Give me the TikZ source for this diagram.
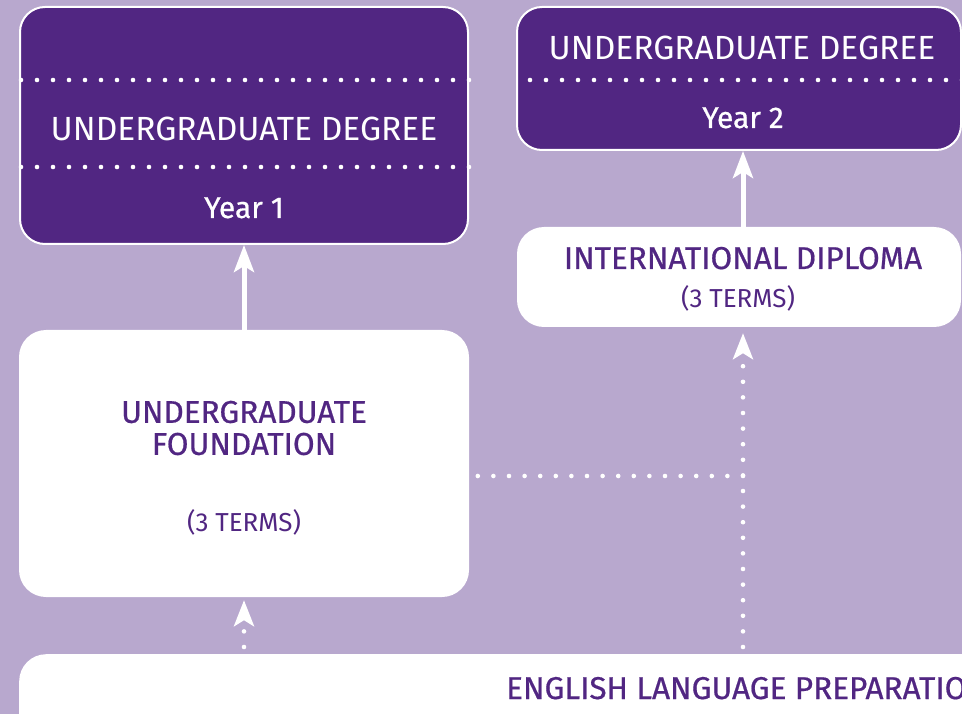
\documentclass[tikz,border=0pt]{standalone}
\usepackage{fontspec}
\setmainfont{Fira Sans}
\newfontfamily\headfont[FakeBold=0.6]{Fira Sans}
\usetikzlibrary{arrows.meta}
\definecolor{bg}{HTML}{B8A8CE}
\definecolor{dark}{HTML}{512682}
\tikzset{
  darkbox/.style={draw=white, line width=2pt, fill=dark, rounded corners=25pt, inner sep=0pt},
  whitebox/.style={fill=white, rounded corners=27pt, inner sep=0pt},
  wtext/.style={text=white, anchor=base, inner sep=0pt, font=\fontsize{33.5}{38}\selectfont},
  ytext/.style={text=white, anchor=base, inner sep=0pt, font=\headfont\fontsize{30}{34}\selectfont},
  ptext/.style={text=dark, anchor=base, inner sep=0pt, align=center, font=\headfont\fontsize{31.5}{32}\selectfont},
  ttext/.style={text=dark, anchor=base, inner sep=0pt, font=\fontsize{26}{30}\selectfont},
  dotline/.style={draw=white, line width=4.6pt, line cap=round, dash pattern=on 0pt off 16pt},
  dotarrow/.style={draw=white, line width=4.6pt, line cap=round, dash pattern=on 0pt off 15.6pt, dash phase=8.6pt,
    -{Stealth[length=26pt, width=20pt, inset=6pt, line cap=butt]}},
  solidarrow/.style={draw=white, line width=5pt, -{Stealth[length=27pt, width=20pt, inset=6pt]}},
}
\begin{document}
\begin{tikzpicture}[x=1pt, y=-1pt]
\useasboundingbox (0,0) rectangle (962,714);
\clip (0,0) rectangle (962,714);
\fill[bg] (0,0) rectangle (962,714);

% boxes
\node[darkbox, minimum width=448pt, minimum height=237pt] (b1) at (244,125.5) {};
\node[darkbox, minimum width=444pt, minimum height=143pt] (b2) at (739,78.5) {};
\node[whitebox, minimum width=444pt, minimum height=100pt] (b3) at (739,277) {};
\node[whitebox, minimum width=450pt, minimum height=267pt] (b4) at (244,463.5) {};
\node[whitebox, minimum width=1100pt, minimum height=140pt, anchor=north west] (b5) at (19,654) {};

% coordinates
\coordinate (ax) at (743,0);
\coordinate (d1) at (0,80);
\coordinate (d2) at (0,167);
\coordinate (j) at (743,476);

% dotted separators
\draw[dotline] (b1.east |- d1) -- (b1.west |- d1);
\draw[dotline] (b1.east |- d2) -- (b1.west |- d2);
\draw[dotline] (b2.east |- d1) -- (b2.west |- d1);

% texts
\node[wtext] (t1) at (244,141) {UNDERGRADUATE DEGREE};
\node[ytext] (y1) at (244,218) {Year 1};
\node[wtext] (t2) at (742,60) {UNDERGRADUATE DEGREE};
\node[ytext] (y2) at (743,128) {Year 2};
\node[ptext] (t3) at (743,269) {INTERNATIONAL DIPLOMA};
\node[ttext] (s3) at (738,308) {(3 TERMS)};
\node[ptext, anchor=center] (t4) at (244,428) {UNDERGRADUATE\\FOUNDATION};
\node[ttext] (s4) at (244,531) {(3 TERMS)};
\node[ptext, anchor=base west] (t5) at (506,699) {ENGLISH LANGUAGE PREPARATION};

% connectors
\draw[solidarrow] (b4.north) -- (b1.south);
\draw[solidarrow] (b3.north -| ax) -- (b2.south -| ax);
\draw[dotarrow, shorten >=3pt] (b5.north -| b4.south) -- (b4.south);
\draw[dotarrow, shorten >=6pt] (b5.north -| ax) -- (b3.south -| ax);
\draw[dotline, dash pattern=on 0pt off 15.6pt] (j) -- (b4.east |- j);
\end{tikzpicture}
\end{document}
